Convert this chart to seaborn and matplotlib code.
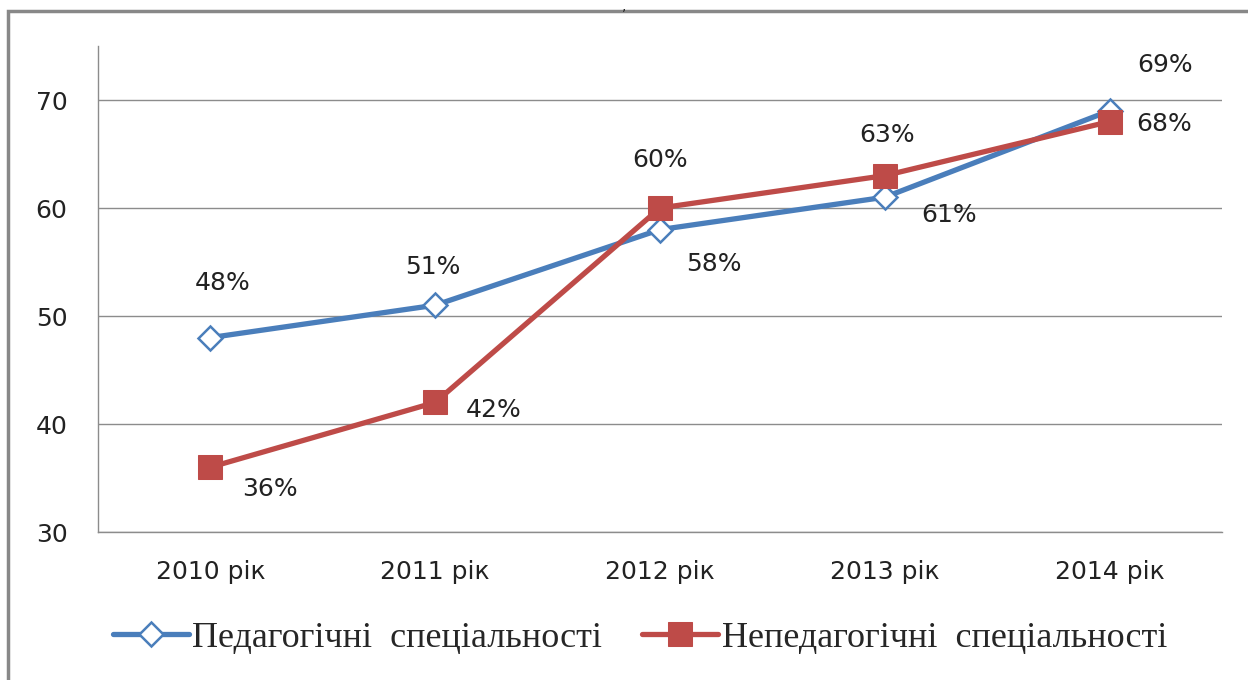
import numpy as np
import matplotlib.pyplot as plt
import matplotlib.patches as mpatches
import pandas as pd
import seaborn as sns

years = ['2010 рік', '2011 рік', '2012 рік', '2013 рік', '2014 рік']
ped = [48, 51, 58, 61, 69]
neped = [36, 42, 60, 63, 68]
ped_name = 'Педагогічні  спеціальності'
neped_name = 'Непедагогічні  спеціальності'

# label offsets in pixels from each point
ped_off = [(12, 55), (-2, 38), (54, -34), (64, -18), (55, 46)]
neped_off = [(60, -22), (58, -8), (0, 48), (2, 41), (55, -2)]

blue = '#4A7EBB'
red = '#BE4B48'

sns.set_style('white')
plt.rcParams['font.family'] = ['DejaVu Sans']

fig = plt.figure(figsize=(12.48, 6.8), dpi=100)
ax = fig.add_axes([98/1248, 1 - 532/680, (1222 - 98)/1248, (532 - 46)/680])

df = pd.DataFrame({'year': years, 'ped': ped, 'neped': neped})
sns.lineplot(data=df, x='year', y='ped', ax=ax, color=blue, lw=3.8, marker='D',
             markersize=12, markerfacecolor='white', markeredgecolor=blue,
             markeredgewidth=1.8, label=ped_name, sort=False)
sns.lineplot(data=df, x='year', y='neped', ax=ax, color=red, lw=3.8, marker='s',
             markersize=17, markerfacecolor=red, markeredgecolor=red,
             label=neped_name, sort=False)

for i, (v, o) in enumerate(zip(ped, ped_off)):
    ax.annotate(f'{v}%', (i, v), xytext=o, textcoords='offset pixels',
                ha='center', va='center', fontsize=18, color='#222222')
for i, (v, o) in enumerate(zip(neped, neped_off)):
    ax.annotate(f'{v}%', (i, v), xytext=o, textcoords='offset pixels',
                ha='center', va='center', fontsize=18, color='#222222')

ax.set_xlim(-0.5, 4.5)
ax.set_ylim(30, 75)
ax.set_yticks([30, 40, 50, 60, 70])
ax.yaxis.grid(True, color='#8c8c8c', lw=1)
ax.set_axisbelow(True)
ax.set_xlabel('')
ax.set_ylabel('')
ax.tick_params(axis='both', length=0, labelsize=18, colors='#222222')
ax.tick_params(axis='x', pad=20)
ax.tick_params(axis='y', pad=22)
for s in ['top', 'right']:
    ax.spines[s].set_visible(False)
for s in ['left', 'bottom']:
    ax.spines[s].set_color('#8c8c8c')
    ax.spines[s].set_linewidth(1)

leg = ax.legend(loc='center', ncol=2, frameon=False, handlelength=2.1,
                columnspacing=1.1, handletextpad=0.1,
                prop={'family': 'Liberation Serif', 'size': 26})
leg.set_bbox_to_anchor((640/1248, 1 - 638/680), transform=fig.transFigure)

fig.patches.append(mpatches.Rectangle((8/1248, -0.2), 1.2, 1.2 - 11/680,
                                      transform=fig.transFigure, fill=False,
                                      edgecolor='#888888', lw=2.5))
fig.text(624/1248, 1 - 6/680, ',', ha='center', va='center', fontsize=10)

fig.savefig('out.png', dpi=100)
